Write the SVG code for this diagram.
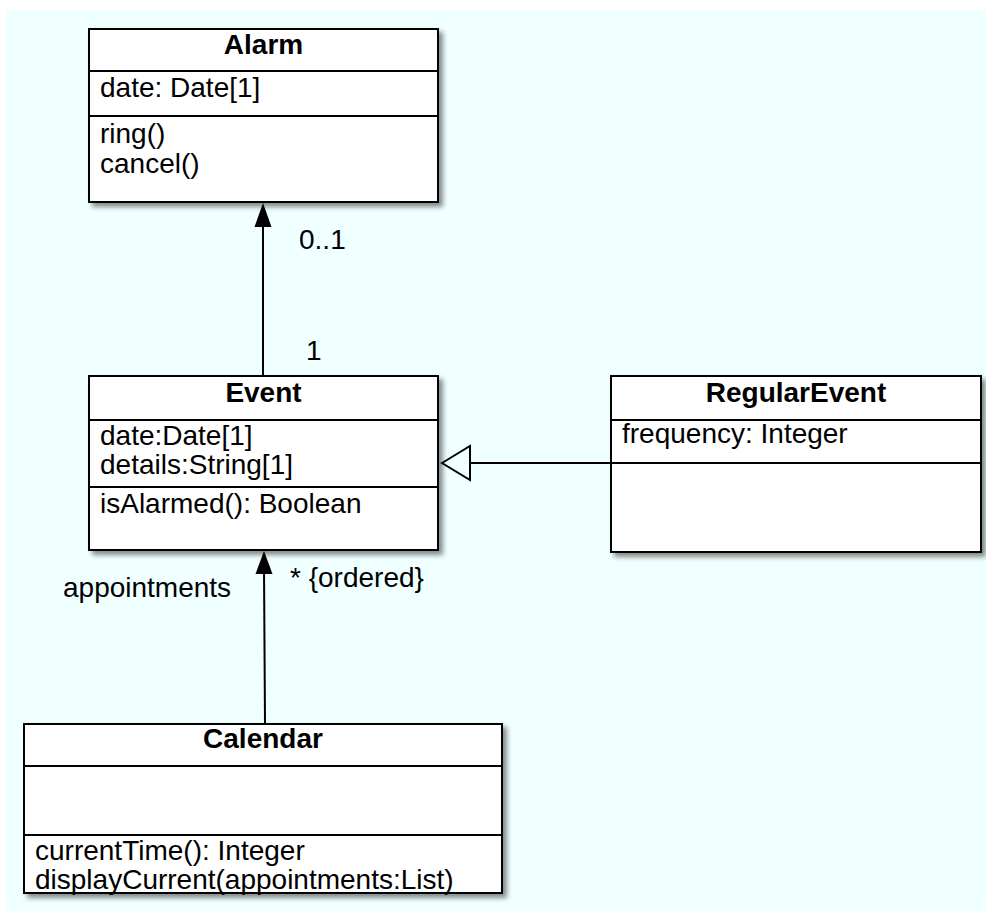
<svg xmlns="http://www.w3.org/2000/svg" width="986" height="911" viewBox="0 0 986 911">
<defs>
<style>
.box{fill:#ffffff;stroke:#000;stroke-width:2}
.div{stroke:#000;stroke-width:2}
.t{font-family:"Liberation Sans",Arial,Helvetica,sans-serif;font-size:28px;fill:#000}
.h{font-family:"Liberation Sans",Arial,Helvetica,sans-serif;font-size:28px;font-weight:bold;fill:#000;text-anchor:middle}
.line{stroke:#000;stroke-width:2;fill:none}
</style>
<filter id="sh" x="-5%" y="-5%" width="115%" height="120%">
<feDropShadow dx="4" dy="4" stdDeviation="2.5" flood-color="#000" flood-opacity="0.45"/>
</filter>
</defs>
<rect x="0" y="0" width="986" height="911" fill="#ffffff"/>
<rect x="6" y="10" width="980" height="901" fill="#f0ffff"/>

<g id="connectors">
<line class="line" x1="263" y1="376" x2="263" y2="222"/>
<polygon points="263,203 254.5,227 271.5,227" fill="#000"/>
<line class="line" x1="265" y1="724" x2="264" y2="568"/>
<polygon points="264,551 255.5,574 272.5,574" fill="#000"/>
<line class="line" x1="611" y1="463" x2="470" y2="463"/>
<polygon points="442,463 470,446 470,480" fill="#f0ffff" stroke="#000" stroke-width="2"/>
<text class="t" x="299" y="249">0..1</text>
<text class="t" x="306" y="360">1</text>
<text class="t" x="290" y="587">* {ordered}</text>
<text class="t" x="63" y="597">appointments</text>
</g>

<g id="Alarm">
<rect class="box" x="89" y="29" width="349" height="173" filter="url(#sh)"/>
<line class="div" x1="89" y1="71" x2="438" y2="71"/>
<line class="div" x1="89" y1="116" x2="438" y2="116"/>
<text class="h" x="263.5" y="54">Alarm</text>
<text class="t" x="100" y="97">date: Date[1]</text>
<text class="t" x="100" y="143">ring()</text>
<text class="t" x="100" y="173">cancel()</text>
</g>

<g id="Event">
<rect class="box" x="89" y="376" width="349" height="174" filter="url(#sh)"/>
<line class="div" x1="89" y1="420" x2="438" y2="420"/>
<line class="div" x1="89" y1="487" x2="438" y2="487"/>
<text class="h" x="263.5" y="402">Event</text>
<text class="t" x="100" y="445">date:Date[1]</text>
<text class="t" x="100" y="474">details:String[1]</text>
<text class="t" x="100" y="513">isAlarmed(): Boolean</text>
</g>

<g id="RegularEvent">
<rect class="box" x="611" y="376" width="370" height="176" filter="url(#sh)"/>
<line class="div" x1="611" y1="420" x2="981" y2="420"/>
<line class="div" x1="611" y1="463" x2="981" y2="463"/>
<text class="h" x="796" y="402">RegularEvent</text>
<text class="t" x="622" y="443">frequency: Integer</text>
</g>

<g id="Calendar">
<rect class="box" x="24" y="724" width="478" height="169" filter="url(#sh)"/>
<line class="div" x1="24" y1="766" x2="502" y2="766"/>
<line class="div" x1="24" y1="835" x2="502" y2="835"/>
<text class="h" x="263" y="748">Calendar</text>
<text class="t" x="35" y="860">currentTime(): Integer</text>
<text class="t" x="35" y="889">displayCurrent(appointments:List)</text>
</g>
</svg>
